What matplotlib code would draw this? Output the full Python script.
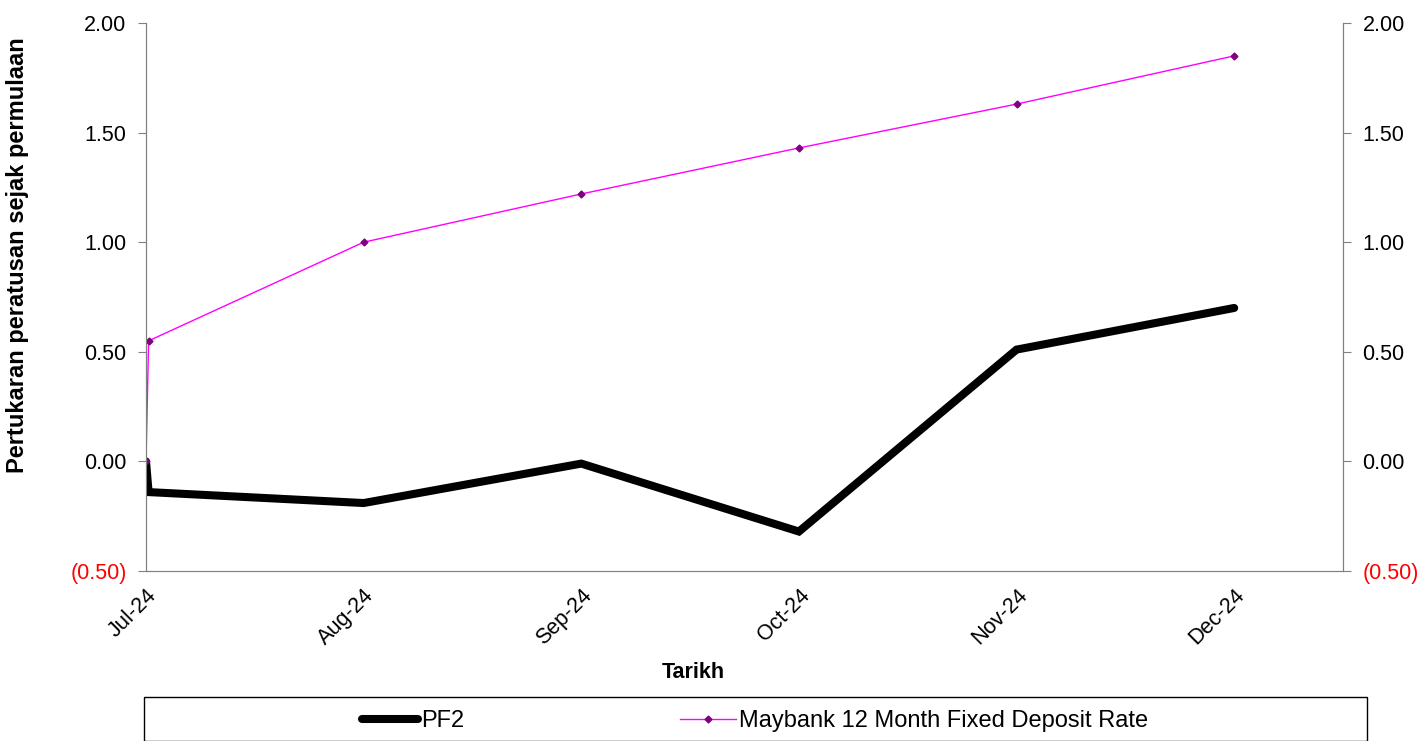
import matplotlib.pyplot as plt
from matplotlib.patches import Rectangle
from matplotlib.ticker import FuncFormatter

plt.rcParams['font.family'] = ['Liberation Sans', 'DejaVu Sans']

months = ['Jul-24', 'Aug-24', 'Sep-24', 'Oct-24', 'Nov-24', 'Dec-24']
# first point is the inception (0.00), plotted just before the Jul-24 month-end
x_pos = [0, 0.012, 1, 2, 3, 4, 5]
pf2 = [0.00, -0.14, -0.19, -0.01, -0.32, 0.51, 0.70]
maybank = [0.00, 0.55, 1.00, 1.22, 1.43, 1.63, 1.85]
y_ticks = [-0.5, 0.0, 0.5, 1.0, 1.5, 2.0]

fig = plt.figure(figsize=(14.19, 7.41), dpi=100)
ax = fig.add_axes([146/1419, 1-571/741, (1343-146)/1419, (571-23)/741])

l1, = ax.plot(x_pos, pf2, color='black', lw=5.8, solid_capstyle='round',
              solid_joinstyle='miter', label='PF2', zorder=3)
l2, = ax.plot(x_pos, maybank, color='#ff00ff', lw=1, marker='D', ms=3.5,
              mfc='#800080', mec='#800080',
              label='Maybank 12 Month Fixed Deposit Rate', zorder=4)

ax.set_xlim(0, 5.5)
ax.set_ylim(-0.5, 2.0)
ax.set_xticks(range(len(months)))
ax.set_xticklabels(months, rotation=45, ha='right', va='top',
                   rotation_mode='anchor', fontsize=15.5)
ax.tick_params(axis='x', length=0, pad=10)


def fmt(v, pos):
    return '(%.2f)' % abs(v) if v < 0 else '%.2f' % v


ax2 = ax.twinx()
ax2.set_ylim(ax.get_ylim())
for a in (ax, ax2):
    a.set_yticks(y_ticks)
    a.yaxis.set_major_formatter(FuncFormatter(fmt))
    a.tick_params(axis='y', labelsize=15.5, length=6, color='#808080', pad=8)
    a.spines['top'].set_visible(False)
    for s in a.spines.values():
        s.set_color('#808080')
    for lbl in a.get_yticklabels():
        if lbl.get_text().startswith('('):
            lbl.set_color('red')

fig.text(18/1419, 1-255/741, 'Pertukaran peratusan sejak permulaan',
         rotation=90, ha='center', va='center', fontsize=17, fontweight='bold')
fig.text(693/1419, 1-672/741, 'Tarikh', ha='center', va='center',
         fontsize=15.5, fontweight='bold')

fig.patches.append(Rectangle((144/1419, 0), (1367-144)/1419, 1-697/741,
                             transform=fig.transFigure, fill=False,
                             edgecolor='black', lw=1))
leg1 = fig.legend(handles=[l1], loc='center left', frameon=False,
                  bbox_to_anchor=(341/1419, 1-721/741), fontsize=17,
                  handlelength=2.35, handletextpad=0.15)
leg2 = fig.legend(handles=[l2], loc='center left', frameon=False,
                  bbox_to_anchor=(659/1419, 1-721/741), fontsize=17,
                  handlelength=2.35, handletextpad=0.15)

fig.savefig('out.png', dpi=100)
